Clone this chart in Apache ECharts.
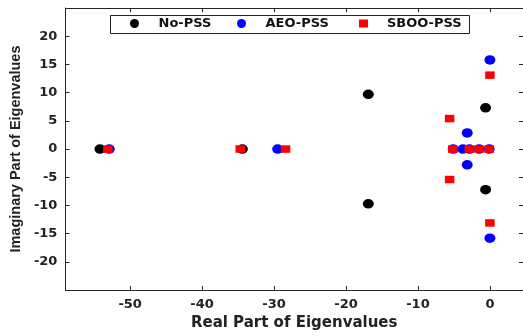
<!DOCTYPE html>
<html>
<head>
<meta charset="utf-8">
<script src="https://cdn.jsdelivr.net/npm/echarts@6/dist/echarts.min.js"></script>
<style>
html,body{margin:0;padding:0;background:#fff;}
#chart{width:523px;height:336px;}
</style>
</head>
<body>
<div id="chart"></div>
<script>
// ---- data ----
const seriesNames = ['No-PSS', 'AEO-PSS', 'SBOO-PSS'];
const noPSS = [[-54.2,0],[-34.4,0],[-16.9,9.7],[-16.9,-9.7],[-0.6,7.3],[-0.6,-7.2]];
const aeoPSS = [[-52.9,0],[-29.5,0],[-5.1,0],[-3.75,0],[-2.85,0],[-1.5,0],[-0.1,0],[-3.15,2.85],[-3.15,-2.8],[0,15.8],[0,-15.8]];
const sbooPSS = [[-53.1,0],[-34.7,0],[-28.4,0],[-5.6,5.4],[-5.6,-5.4],[-5.15,0],[-2.85,0],[-1.5,0],[-0.1,0],[0,13.1],[0,-13.1]];
const xTicks = [-50,-40,-30,-20,-10,0];
const yTicks = [-20,-15,-10,-5,0,5,10,15,20];
const xLabel = 'Real Part of Eigenvalues';
const yLabel = 'Imaginary Part of Eigenvalues';

const axisColor = '#262626';
const tickFont = {fontFamily:'DejaVu Sans', fontWeight:'bold', fontSize:13, color:'#222'};

const chart = echarts.init(document.getElementById('chart'), null, {renderer:'canvas'});

function legend(name, icon, left, w, h) {
  return {
    data:[{name:name, icon:icon}],
    left:left, top:17, padding:0, itemWidth:w, itemHeight:h, z:10,
    selectedMode:false,
    textStyle:{fontFamily:'DejaVu Sans', fontWeight:'bold', fontSize:13, color:'#111', padding:[0,0,0,14]}
  };
}

const option = {
  animation:false,
  backgroundColor:'#fff',
  grid:{left:62, top:8, right:0, bottom:44, containLabel:false},
  legend:[
    legend('No-PSS','circle',130,10,9),
    legend('AEO-PSS','circle',237,10,9),
    legend('SBOO-PSS','rect',359,9,8)
  ],
  graphic:[{type:'rect', shape:{x:110.5, y:15.5, width:359, height:18}, style:{fill:'#fff', stroke:'#222', lineWidth:1}, z:5, silent:true}],
  xAxis:[{
    type:'value', min:-59, max:4.6, position:'bottom',
    name:xLabel, nameLocation:'middle', nameGap:25,
    nameTextStyle:{fontFamily:'DejaVu Sans', fontWeight:'bold', fontSize:15, color:'#222'},
    axisLine:{show:true, onZero:false, lineStyle:{color:axisColor, width:1}},
    axisTick:{show:true, inside:true, length:4, customValues:xTicks, lineStyle:{color:axisColor}},
    axisLabel:Object.assign({show:true, margin:8, customValues:xTicks}, tickFont),
    splitLine:{show:false}
  },{
    type:'value', min:-59, max:4.6, position:'top',
    axisLine:{show:true, onZero:false, lineStyle:{color:axisColor, width:1}},
    axisTick:{show:true, inside:true, length:4, customValues:xTicks, lineStyle:{color:axisColor}},
    axisLabel:{show:false},
    splitLine:{show:false}
  }],
  yAxis:[{
    type:'value', min:-25, max:25, interval:5, position:'left',
    name:yLabel, nameLocation:'middle', nameGap:37, nameRotate:90,
    nameTextStyle:{fontFamily:'Liberation Sans', fontWeight:'bold', fontSize:14.5, color:'#222'},
    axisLine:{show:true, onZero:false, lineStyle:{color:axisColor, width:1}},
    axisTick:{show:true, inside:true, length:4, lineStyle:{color:axisColor}},
    axisLabel:Object.assign({show:true, margin:8, customValues:yTicks}, tickFont),
    splitLine:{show:false}
  },{
    type:'value', min:-25, max:25, interval:5, position:'right',
    axisLine:{show:false, onZero:false, lineStyle:{color:axisColor, width:1}},
    axisTick:{show:true, inside:true, length:4, lineStyle:{color:axisColor}},
    axisLabel:{show:false},
    splitLine:{show:false}
  }],
  series:[
    {name:seriesNames[0], type:'scatter', data:noPSS, symbol:'circle', symbolSize:[11,9.5], itemStyle:{color:'#000', opacity:1}, z:2},
    {name:seriesNames[1], type:'scatter', data:aeoPSS, symbol:'circle', symbolSize:[11,9.5], itemStyle:{color:'#0000ff', opacity:1}, z:3},
    {name:seriesNames[2], type:'scatter', data:sbooPSS, symbol:'rect', symbolSize:[9.5,7.5], itemStyle:{color:'#ff0000', opacity:1}, z:4}
  ]
};
chart.setOption(option);
</script>
</body>
</html>
